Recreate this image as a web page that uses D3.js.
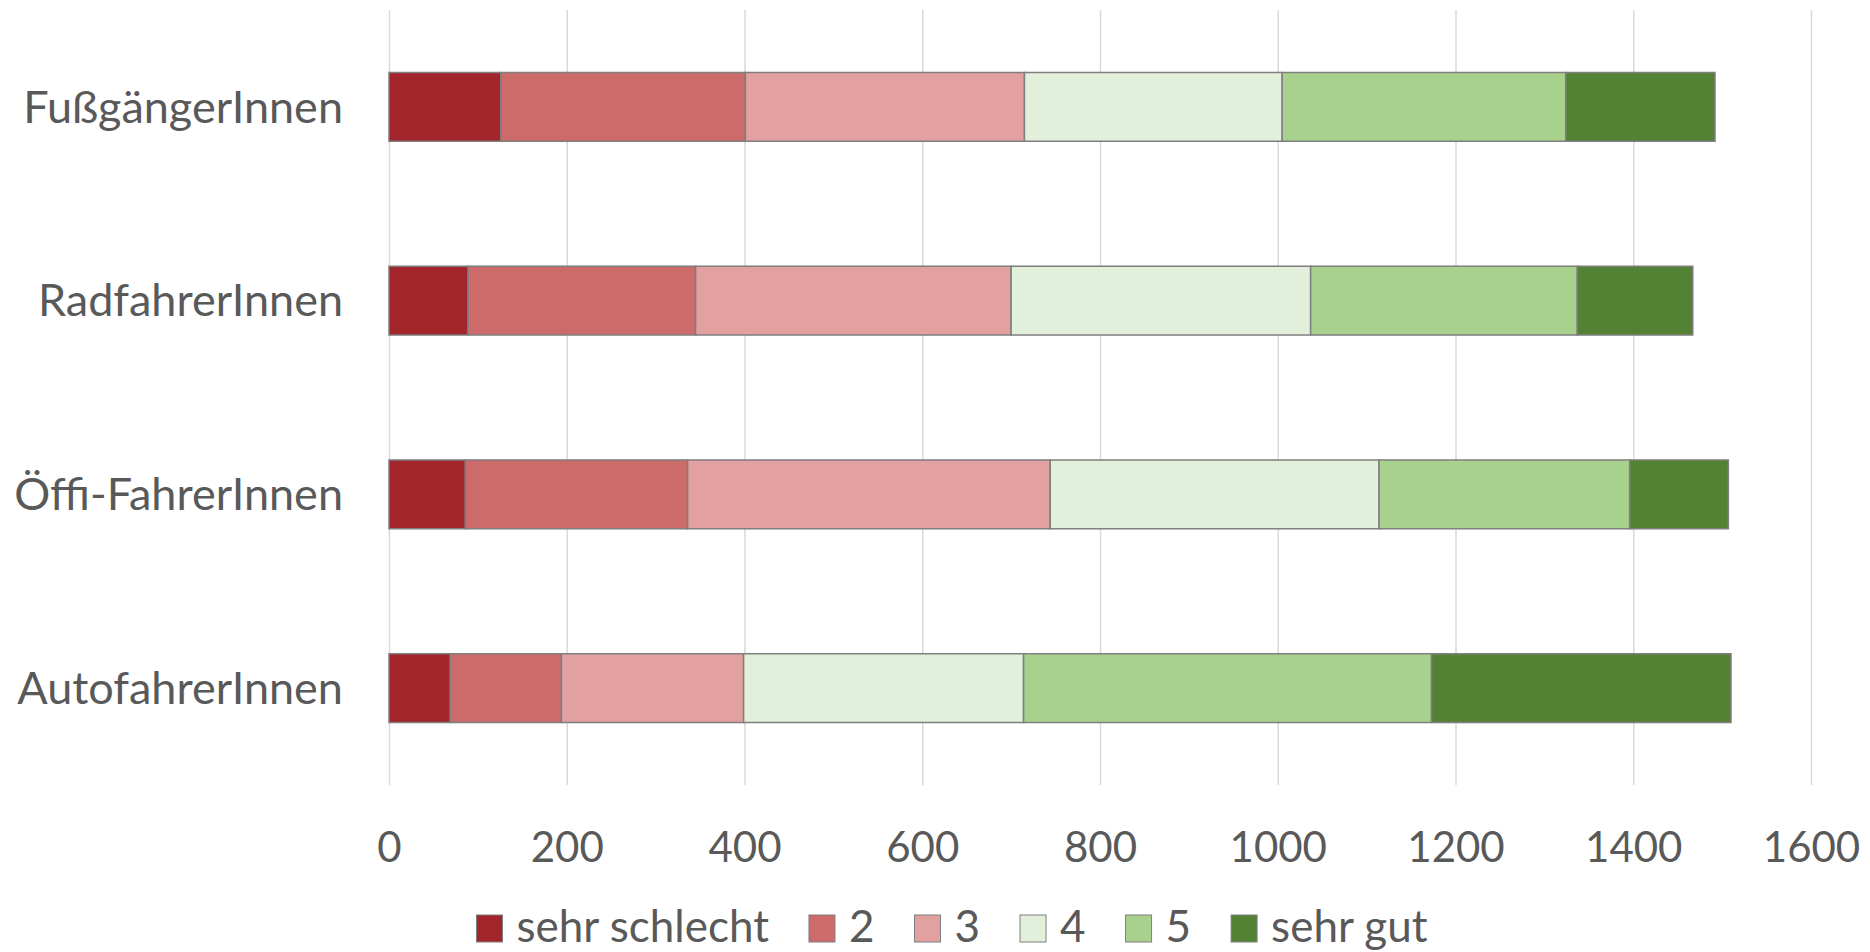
<!DOCTYPE html>
<html>
<head>
<meta charset="utf-8">
<script src="https://cdn.jsdelivr.net/npm/d3@7"></script>
<style>
  body { margin: 0; background: #fff; }
  text { font-family: Lato, "Open Sans", sans-serif; fill: #595959; }
</style>
</head>
<body>
<svg id="vis" width="1870" height="952"></svg>
<script>
// data
const categories = ["FußgängerInnen", "RadfahrerInnen", "Öffi-FahrerInnen", "AutofahrerInnen"];
const ratings = ["sehr schlecht", "2", "3", "4", "5", "sehr gut"];
const sehrSchlecht = [126, 89, 86, 69];
const r2 = [275, 256, 250, 125];
const r3 = [314, 355, 408, 205];
const r4 = [290, 337, 370, 315];
const r5 = [319, 300, 282, 459];
const sehrGut = [168, 130, 111, 337];
const xTicks = [0, 200, 400, 600, 800, 1000, 1200, 1400, 1600];
const colors = ["#A2252B", "#CD6A6A", "#E2A0A1", "#E2EFDA", "#A9D18E", "#548235"];

const seriesValues = [sehrSchlecht, r2, r3, r4, r5, sehrGut];

// rows for the stack
const rows = categories.map((c, i) => {
  const row = { cat: c };
  ratings.forEach((r, j) => { row[r] = seriesValues[j][i]; });
  return row;
});

const svg = d3.select("#vis");

const plotTop = 10, plotBottom = 785;

// SCALES
const x = d3.scaleLinear()
  .domain([0, 1600])
  .range([389, 1811]);

const y = d3.scaleBand()
  .domain(categories)
  .range([plotTop, plotBottom])
  .paddingInner(0.645)
  .paddingOuter(0.3225);

const color = d3.scaleOrdinal()
  .domain(ratings)
  .range(colors);

// grid + tick labels
const xAxis = d3.axisBottom(x)
  .tickValues(xTicks)
  .tickSizeInner(-(plotBottom - plotTop))
  .tickSizeOuter(0)
  .tickFormat(d3.format("d"));

const gx = svg.append("g")
  .attr("class", "axis")
  .attr("transform", `translate(0,${plotBottom})`)
  .call(xAxis);

gx.select(".domain").remove();
gx.selectAll(".tick line")
  .attr("stroke", "#D9D9D9")
  .attr("stroke-width", 1.5);
gx.selectAll(".tick text")
  .attr("y", 77)
  .attr("dy", null)
  .style("font-size", "42px")
  .style("fill", "#595959")
  .style("font-family", "Lato, 'Open Sans', sans-serif");

// stacked bars
const stacked = d3.stack().keys(ratings)(rows);

svg.append("g")
  .selectAll("g")
  .data(stacked)
  .join("g")
  .attr("fill", d => color(d.key))
  .selectAll("rect")
  .data(d => d)
  .join("rect")
  .attr("x", d => x(d[0]))
  .attr("y", d => y(d.data.cat))
  .attr("width", d => x(d[1]) - x(d[0]))
  .attr("height", y.bandwidth())
  .attr("stroke", "#7F7F7F")
  .attr("stroke-width", 1.5);

// category labels
const yAxis = d3.axisLeft(y).tickSize(0).tickPadding(46);
const gy = svg.append("g")
  .attr("transform", `translate(${x(0)},0)`)
  .call(yAxis);
gy.select(".domain").remove();
gy.selectAll(".tick text")
  .attr("dy", "0.35em")
  .style("font-size", "45px")
  .style("fill", "#595959")
  .style("font-family", "Lato, 'Open Sans', sans-serif");

// legend
const legend = svg.append("g");
const legendY = 942;
let cursor = 0;
const items = legend.selectAll("g")
  .data(ratings)
  .join("g");

items.append("rect")
  .attr("width", 26)
  .attr("height", 27)
  .attr("y", -27)
  .attr("fill", d => color(d))
  .attr("stroke", "#7F7F7F")
  .attr("stroke-width", 1);

items.append("text")
  .attr("x", 40)
  .style("font-size", "44px")
  .text(d => d);

items.each(function () {
  const g = d3.select(this);
  const w = g.select("text").node().getComputedTextLength();
  g.attr("transform", `translate(${cursor},${legendY})`);
  cursor += 40 + w + 40;
});
const legendWidth = cursor - 40;
legend.attr("transform", `translate(${952 - legendWidth / 2},0)`);
</script>
</body>
</html>
